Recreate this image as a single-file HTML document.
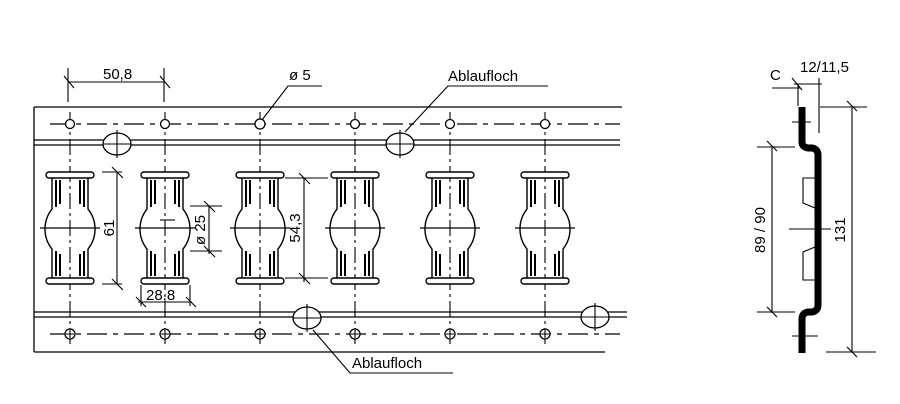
<!DOCTYPE html>
<html><head><meta charset="utf-8"><style>
html,body{margin:0;padding:0;background:#fff;}
svg{display:block;}
text{font-family:"Liberation Sans",sans-serif;font-size:15px;fill:#000;}
</style></head><body>
<svg width="900" height="404" viewBox="0 0 900 404" xmlns="http://www.w3.org/2000/svg">
<defs>
<g id="slot" fill="none" stroke="#000" stroke-width="1.4">
  <path d="M-18,178 L-18,209 A32,32 0 0 0 -18,249 L-18,278 M18,278 L18,249 A32,32 0 0 0 18,209 L18,178"/>
  <rect x="-24" y="172" width="48" height="6" rx="3" fill="#fff"/>
  <rect x="-24" y="278" width="48" height="6" rx="3" fill="#fff"/>
  <path d="M-14,180 V207 M-10,180 V204 M14,180 V207 M10,180 V204 M-14,251 V276 M-10,254 V276 M14,251 V276 M10,254 V276" stroke-width="2"/>
  <line x1="-30" y1="228" x2="30" y2="228" stroke-width="1.2"/>
</g>
</defs>
<g stroke="#000" stroke-width="1.3" fill="none">
  <line x1="34" y1="107" x2="622" y2="107"/>
  <line x1="34" y1="107" x2="34" y2="352"/>
  <line x1="34" y1="140" x2="620" y2="140"/>
  <line x1="34" y1="145" x2="620" y2="145"/>
  <line x1="34" y1="312" x2="627" y2="312"/>
  <line x1="34" y1="317" x2="627" y2="317"/>
  <line x1="34" y1="352" x2="605" y2="352"/>
  <line x1="50" y1="124" x2="620" y2="124" stroke-dasharray="20,6,5,6"/>
  <line x1="50" y1="334" x2="620" y2="334" stroke-dasharray="20,6,5,6"/>
  <g stroke-dasharray="16,4,3,4" stroke-width="1.1">
    <line x1="70" y1="112" x2="70" y2="345"/>
    <line x1="165" y1="112" x2="165" y2="345"/>
    <line x1="260" y1="112" x2="260" y2="345"/>
    <line x1="355" y1="112" x2="355" y2="345"/>
    <line x1="450" y1="112" x2="450" y2="345"/>
    <line x1="545" y1="112" x2="545" y2="345"/>
  </g>
</g>
<g>
  <use href="#slot" x="70"/><use href="#slot" x="165"/><use href="#slot" x="260"/>
  <use href="#slot" x="355"/><use href="#slot" x="450"/><use href="#slot" x="545"/>
</g>
<g stroke="#000" stroke-width="1.3" fill="#fff">
  <circle cx="70" cy="124" r="4.5"/><circle cx="165" cy="124" r="4.5"/><circle cx="260" cy="124" r="5"/>
  <circle cx="355" cy="124" r="4.5"/><circle cx="450" cy="124" r="4.5"/><circle cx="545" cy="124" r="4.5"/>
  <circle cx="70" cy="334" r="5"/><circle cx="165" cy="334" r="5"/><circle cx="260" cy="334" r="5"/>
  <circle cx="355" cy="334" r="5"/><circle cx="450" cy="334" r="5"/><circle cx="545" cy="334" r="5"/>
  <ellipse cx="117" cy="144" rx="14" ry="11"/>
  <ellipse cx="400" cy="144" rx="14" ry="11"/>
  <ellipse cx="307" cy="318" rx="14" ry="11"/>
  <ellipse cx="595" cy="317" rx="14" ry="11"/>
</g>
<g stroke="#000" stroke-width="1.1" fill="none">
  <path d="M117,130 V158 M103,144 H131 M400,130 V158 M386,144 H414 M307,304 V332 M293,318 H321 M595,303 V331 M581,317 H609"/>
  <path d="M70,330 V338 M66,334 H74 M165,330 V338 M161,334 H169 M260,330 V338 M256,334 H264 M355,330 V338 M351,334 H359 M450,330 V338 M446,334 H454 M545,330 V338 M541,334 H549"/>
  <path d="M68,68 V102 M164,68 V102 M68,82 H164 M64,76 L74,88 M160,76 L170,88"/>
  <path d="M262,120 L288,86 H322"/>
  <path d="M405,132 L448,86 H548"/>
  <path d="M313,330 L350,373 H453"/>
  <path d="M102,172 H122 M102,284 H122 M117,172 V284 M112,167 L123,178 M112,279 L123,290"/>
  <path d="M190,206 H222 M190,251 H222 M209,206 V254 M204,201 L215,212 M204,246 L215,257"/>
  <path d="M285,178 H328 M285,278 H328 M304,178 V282 M299,173 L310,184 M299,273 L310,284"/>
  <path d="M141,285 V306 M190,285 V306 M138,302 H192 M136,297 L146,307 M186,297 L196,307"/>
  <path d="M160,220 H175"/>
</g>
<text x="103" y="79">50,8</text>
<text x="289" y="80">ø 5</text>
<text x="448" y="81">Ablaufloch</text>
<text x="352" y="368">Ablaufloch</text>
<text x="146" y="300">28,8</text>
<text transform="translate(114,228) rotate(-90)" text-anchor="middle">61</text>
<text transform="translate(205,230) rotate(-90)" text-anchor="middle" font-size="14">ø 25</text>
<text transform="translate(300,228) rotate(-90)" text-anchor="middle">54,3</text>
<g fill="none" stroke="#000">
  <path d="M802,107 V142 Q802,147 808,148 L812,148 Q818,149 818,155 V305 Q818,311 812,312 L808,312 Q802,313 802,319 V353" stroke-width="7"/>
  <path d="M815,178 H803 V203 L815,208 M815,247 L803,252 V280 H815" stroke-width="1.1"/>
  <g stroke-width="1.1">
    <path d="M789,229 H831 M792,122 H811 M792,336 H818"/>
    <path d="M772,146 V313 M757,147 H795 M757,312 H795 M767,141 L777,151 M767,307 L777,317"/>
    <path d="M852,106 V352 M820,107 H867 M826,352 H876 M847,101 L857,111 M847,347 L857,357"/>
    <path d="M798,84 V106 M819,78 V133 M772,88 H800 M792,78 L802,90 M794,84 H822"/>
  </g>
</g>
<text x="770" y="80">C</text>
<text x="800" y="72">12/11,5</text>
<text transform="translate(765,230) rotate(-90)" text-anchor="middle">89 / 90</text>
<text transform="translate(845,230) rotate(-90)" text-anchor="middle">131</text>
</svg>
</body></html>
